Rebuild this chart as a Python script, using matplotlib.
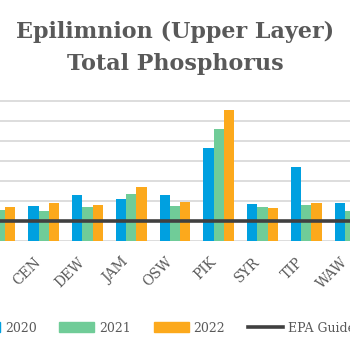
import matplotlib
matplotlib.use("Agg")
import matplotlib.pyplot as plt
import numpy as np
from matplotlib.patches import Patch
from matplotlib.lines import Line2D

# lake codes (first one is cut off at the left edge of the picture)
LAKES = ["BAL", "CEN", "DEW", "JAM", "OSW", "PIK", "SYR", "TIP", "WAW"]

# total phosphorus, ug/L
TP_2020 = [18.0, 17.5, 22.8, 21.0, 22.8, 46.3, 18.5, 37.0, 19.0]
TP_2021 = [15.5, 15.0, 17.2, 23.3, 17.5, 55.8, 17.0, 18.0, 14.8]
TP_2022 = [17.0, 19.0, 18.0, 26.8, 19.7, 65.7, 16.5, 19.0, 17.5]

EPA_GUIDELINE = 10.0

YEARS = ["2020", "2021", "2022"]
COLORS = ["#00A0E0", "#70CC98", "#FCA91C"]
TEXT = "#595959"
FONT = "DejaVu Serif"

fig = plt.figure(figsize=(3.5, 3.5), dpi=100)
fig.patch.set_facecolor("white")

# the chart is a crop of a wider one, so the axes run past the edges
ax = fig.add_axes([0, 109 / 350, 1, 150 / 350])
ax.set_facecolor("white")

x = np.arange(len(LAKES))
w = 0.233
for i, (vals, c) in enumerate(zip([TP_2020, TP_2021, TP_2022], COLORS)):
    ax.bar(x + (i - 1) * w, vals, width=w, color=c, zorder=2)

ax.axhline(EPA_GUIDELINE, color="#404040", lw=2.6, zorder=3)

ax.set_xlim(0.09, 7.99)
ax.set_ylim(0, 75)
ax.set_yticks(np.arange(0, 71, 10))
ax.yaxis.grid(True, color="#DDDDDD", lw=1.4, zorder=0)
ax.set_axisbelow(True)
ax.tick_params(axis="y", left=False, labelleft=False)
ax.tick_params(axis="x", length=0, pad=10)
for s in ax.spines.values():
    s.set_visible(False)

ax.set_xticks(x)
ticklabels = ax.set_xticklabels(LAKES, rotation=45, ha="right",
                                fontsize=10, color=TEXT, family=FONT)
# the first lake's label lies outside the cropped picture
ticklabels[0].set_visible(False)

fig.text(0.5, 1 - 32 / 350, "Epilimnion (Upper Layer)", ha="center",
         va="center", fontsize=16, fontweight="bold", color=TEXT, family=FONT)
fig.text(0.5, 1 - 64 / 350, "Total Phosphorus", ha="center", va="center",
         fontsize=16, fontweight="bold", color=TEXT, family=FONT)

handles = [Patch(color=c) for c in COLORS]
handles.append(Line2D([0], [0], color="#404040", lw=2.6))
labels = YEARS + ["EPA Guideline"]
leg = fig.legend(handles, labels, loc="center left",
                 bbox_to_anchor=(-35 / 350, 1 - 328 / 350), ncol=4,
                 frameon=False, borderpad=0, borderaxespad=0,
                 handlelength=2.8, handleheight=0.85, handletextpad=0.4,
                 columnspacing=1.8, prop={"family": FONT, "size": 9})
for t in leg.get_texts():
    t.set_color(TEXT)

fig.savefig("out.png", dpi=100)
